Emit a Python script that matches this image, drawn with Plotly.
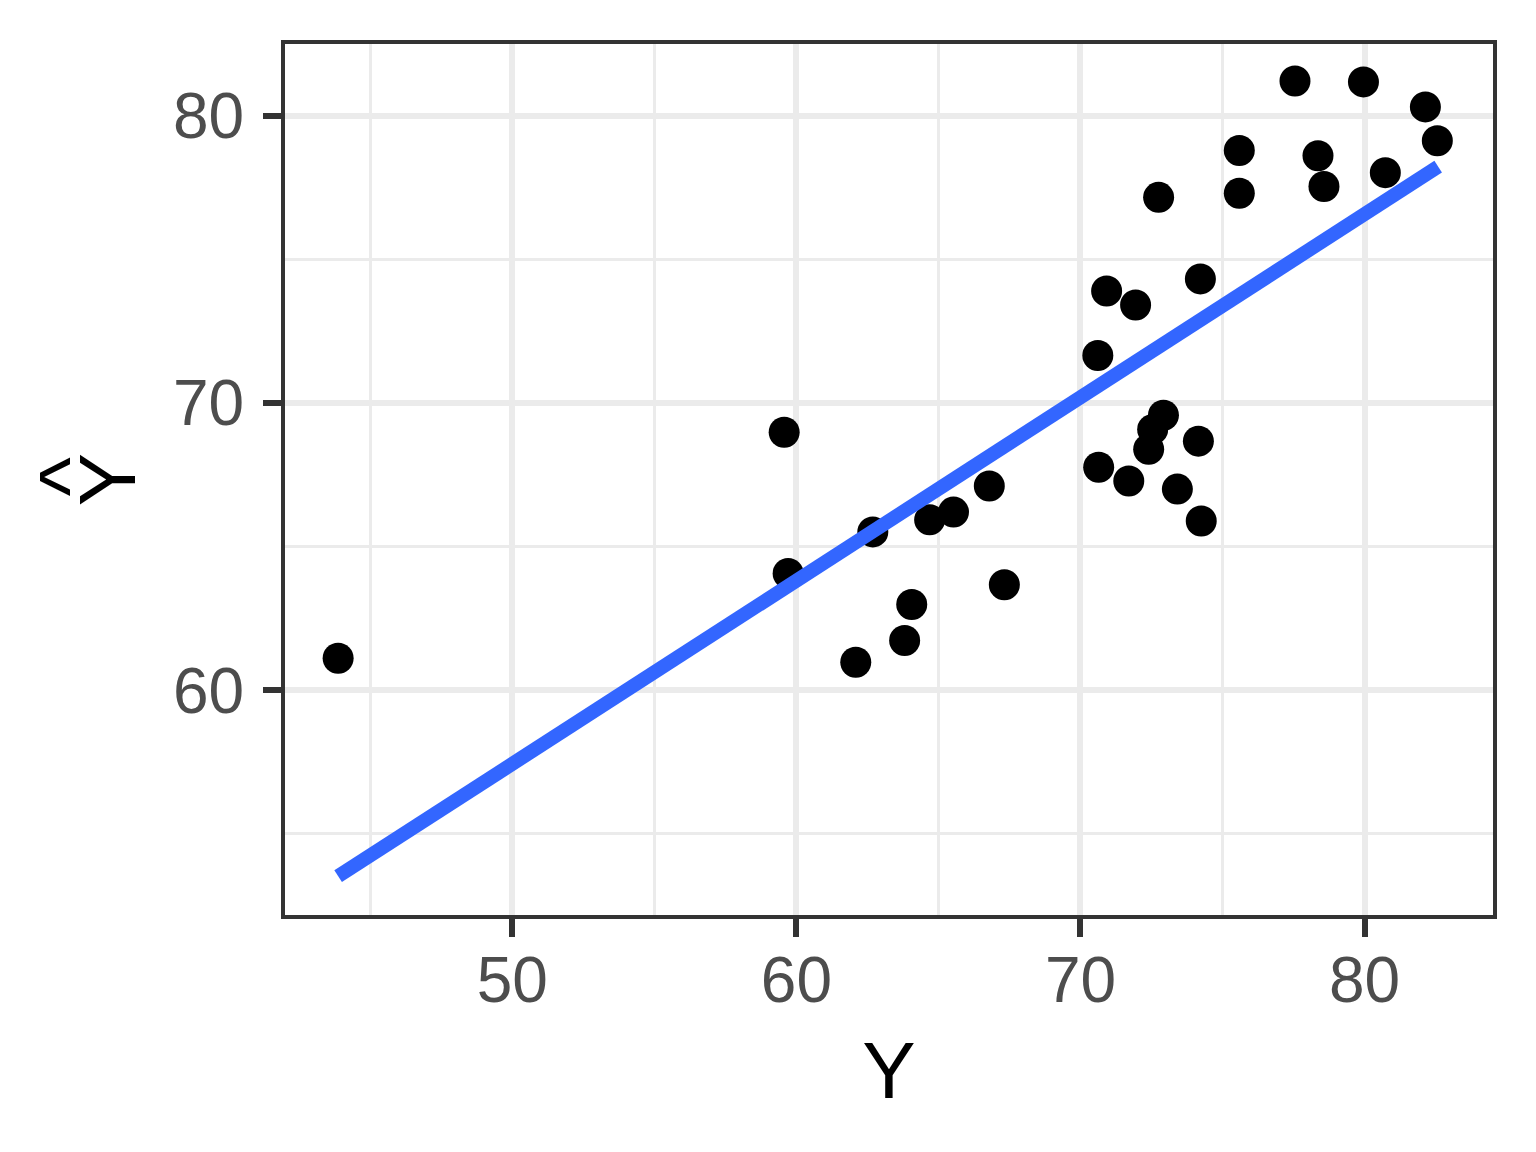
import plotly.graph_objects as go

y_obs = [43.87, 59.57, 59.71, 62.09, 62.69, 63.81, 64.06, 64.69, 65.53, 66.79,
         67.32, 70.61, 70.64, 70.92, 71.94, 71.70, 72.75, 72.40, 72.54, 72.92,
         73.41, 74.15, 74.22, 74.25, 75.59, 75.59, 77.55, 78.36, 78.57, 79.96,
         80.73, 82.14, 82.56]
y_hat = [61.11, 68.98, 64.06, 60.97, 65.51, 61.73, 62.98, 65.93, 66.20, 67.11,
         63.67, 71.65, 67.76, 73.90, 73.41, 67.28, 77.16, 68.39, 69.08, 69.57,
         67.00, 68.67, 74.32, 65.89, 78.79, 77.30, 81.21, 78.61, 77.54, 81.18,
         78.02, 80.31, 79.13]

# lm smooth line endpoints
fit_x = [43.87, 82.59]
fit_y = [53.52, 78.23]

FONT = 'Liberation Sans, Arial'

fig = go.Figure()

fig.add_trace(go.Scatter(x=y_obs, y=y_hat, mode='markers',
                         marker=dict(color='black', size=31, line=dict(width=0)),
                         showlegend=False))
fig.add_trace(go.Scatter(x=fit_x, y=fit_y, mode='lines',
                         line=dict(color='#3366FF', width=14),
                         showlegend=False))

axis_style = dict(
    showgrid=True, gridcolor='#EBEBEB', gridwidth=6,
    showline=True, mirror=True, linecolor='#333333', linewidth=4,
    ticks='outside', ticklen=18, tickwidth=6, tickcolor='#333333',
    tickfont=dict(family=FONT, size=64, color='#4D4D4D'),
    zeroline=False,
    minor=dict(showgrid=True, gridcolor='#EBEBEB', gridwidth=3, ticks=''),
)

fig.update_xaxes(axis_style, range=[42.0, 84.52], tick0=50, dtick=10,
                 minor_dtick=5, minor_tick0=45,
                 title=dict(text='Y', standoff=28,
                            font=dict(family=FONT, size=80, color='black')),
                 ticklabelstandoff=-12)
fig.update_yaxes(axis_style, range=[52.17, 82.5], tick0=60, dtick=10,
                 minor_dtick=5, minor_tick0=55,
                 title=dict(text='Y', standoff=12,
                            font=dict(family=FONT, size=80, color='black')),
                 ticklabelstandoff=6)

# the hat over the rotated y title
fig.add_annotation(text='^', textangle=-90, showarrow=False,
                   xref='paper', yref='paper', x=0, y=0.5,
                   xanchor='center', yanchor='middle', xshift=-218, yshift=2,
                   font=dict(family=FONT, size=84, color='black'))

fig.update_layout(
    width=1536, height=1152,
    margin=dict(l=277, r=51, t=36, b=245),
    plot_bgcolor='white', paper_bgcolor='white',
)

fig.write_html("out.html")
